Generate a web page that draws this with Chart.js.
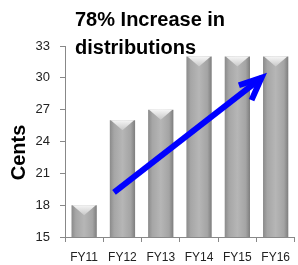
<!DOCTYPE html>
<html>
<head>
<meta charset="utf-8">
<script src="https://cdn.jsdelivr.net/npm/chart.js@4.4.1/dist/chart.umd.min.js"></script>
<style>
  html, body { margin: 0; padding: 0; background: #fff; }
  #wrap { position: relative; width: 298px; height: 265px; }
</style>
</head>
<body>
<div id="wrap"><canvas id="myChart"></canvas></div>
<script>
// chart data
var years = ["FY11", "FY12", "FY13", "FY14", "FY15", "FY16"];
var cents = [18, 26, 27, 32, 32, 32];
var yTicks = [15, 18, 21, 24, 27, 30, 33];
var titleLines = ["78% Increase in", "distributions"];
var yTitle = "Cents";

// arrow overlay, in category-index / cents units
var arrowX = [0.78, 4.63];
var arrowY = [19.2, 30.0];
var headX = [4.04, 4.63, 4.37];
var headY = [29.3, 30.0, 27.9];

function barFill(c) {
  var ch = c.chart;
  if (!ch.chartArea) return "#a8a8a8";
  var el = c.element;
  var cx = ch.scales.x.getPixelForValue(c.dataIndex);
  var w = el && el.width ? el.width / 2 : 13;
  var g = ch.ctx.createLinearGradient(cx - w, 0, cx + w, 0);
  g.addColorStop(0, "#888888");
  g.addColorStop(0.18, "#a6a6a6");
  g.addColorStop(0.5, "#b6b6b6");
  g.addColorStop(0.82, "#a4a4a4");
  g.addColorStop(1, "#7a7a7a");
  return g;
}

// light chevron on top of each bar
var bevel = {
  id: "bevel",
  afterDatasetDraw: function (chart, args) {
    if (args.meta.type !== "bar") return;
    var ctx = chart.ctx;
    args.meta.data.forEach(function (b) {
      var l = b.x - b.width / 2, r = b.x + b.width / 2, t = b.y;
      var g = ctx.createLinearGradient(0, t, 0, t + 10);
      g.addColorStop(0, "#f6f6f6");
      g.addColorStop(1, "#c8c8c8");
      ctx.save();
      ctx.fillStyle = g;
      ctx.beginPath();
      ctx.moveTo(l + 1, t);
      ctx.lineTo(r - 1, t);
      ctx.lineTo(b.x, t + 10);
      ctx.closePath();
      ctx.fill();
      ctx.restore();
    });
  }
};

// blue arrow, positioned through the x / y scales
function strokePath(chart, xs, ys) {
  var ctx = chart.ctx;
  var sx = chart.scales.x, sy = chart.scales.y;
  ctx.beginPath();
  xs.forEach(function (v, i) {
    var px = sx.getPixelForValue(v), py = sy.getPixelForValue(ys[i]);
    if (i === 0) ctx.moveTo(px, py); else ctx.lineTo(px, py);
  });
  ctx.stroke();
}

var arrow = {
  id: "arrow",
  afterDatasetsDraw: function (chart) {
    var ctx = chart.ctx;
    ctx.save();
    ctx.strokeStyle = "#0000ff";
    ctx.lineWidth = 6;
    ctx.lineCap = "butt";
    ctx.lineJoin = "miter";
    strokePath(chart, arrowX, arrowY);
    strokePath(chart, headX, headY);
    ctx.restore();
  }
};

var heading = {
  id: "heading",
  afterDraw: function (chart) {
    var ctx = chart.ctx;
    var a = chart.chartArea;
    ctx.save();
    ctx.fillStyle = "#000";
    ctx.font = "bold 20px 'Liberation Sans', Arial, sans-serif";
    ctx.textAlign = "left";
    ctx.textBaseline = "alphabetic";
    ctx.fillText(titleLines[0], a.left + 10, a.top - 20);
    ctx.fillText(titleLines[1], a.left + 10, a.top + 8);
    // y axis title, sits a little below the axis middle
    ctx.translate(19, (a.top + a.bottom) / 2 + 11);
    ctx.rotate(-Math.PI / 2);
    ctx.textAlign = "center";
    ctx.textBaseline = "middle";
    ctx.fillText(yTitle, 0, 0);
    ctx.restore();
  }
};

var ctx = document.getElementById("myChart").getContext("2d");
var myChart = new Chart(ctx, {
  type: "bar",
  plugins: [bevel, arrow, heading],
  data: {
    labels: years,
    datasets: [
      {
        data: cents,
        backgroundColor: barFill,
        borderWidth: 0,
        categoryPercentage: 1,
        barPercentage: 0.66,
      },
    ],
  },
  options: {
    responsive: true,
    maintainAspectRatio: false,
    animation: false,
    events: [],
    layout: { padding: { top: 46, right: 0, bottom: 0, left: 0 } },
    plugins: {
      legend: { display: false },
      tooltip: { enabled: false },
    },
    scales: {
      x: {
        afterFit: function (s) { s.height = 28; },
        grid: {
          display: true,
          drawOnChartArea: false,
          tickLength: 5,
          color: "#888",
        },
        border: { color: "#888", width: 1 },
        ticks: {
          color: "#222",
          padding: 8,
          font: { family: "'Liberation Sans', Arial, sans-serif", size: 12 },
        },
      },
      y: {
        min: 15,
        max: 33,
        afterFit: function (s) { s.width = 65; },
        grid: {
          display: true,
          drawOnChartArea: false,
          tickLength: 5,
          color: "#888",
        },
        border: { color: "#888", width: 1 },
        ticks: {
          stepSize: 3,
          color: "#222",
          padding: 10,
          font: { family: "'Liberation Sans', Arial, sans-serif", size: 13 },
        },
      },
    },
  },
});
</script>
</body>
</html>
